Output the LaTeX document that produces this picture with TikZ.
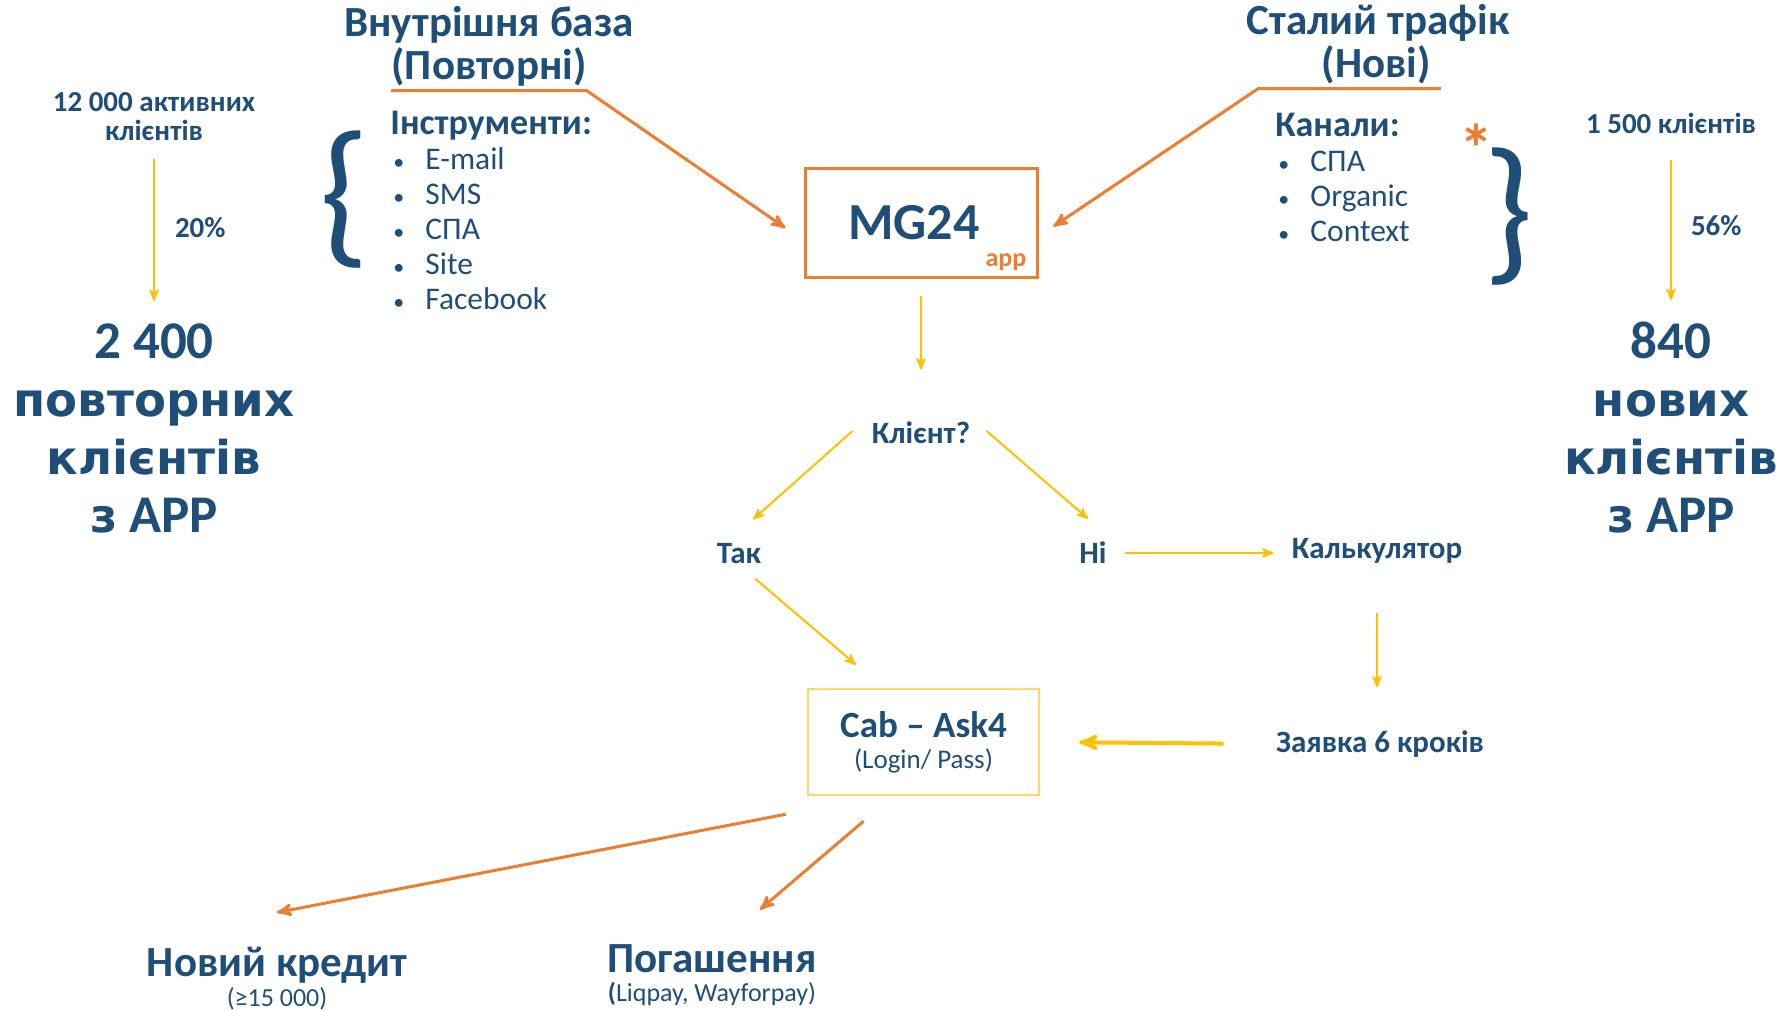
\documentclass[tikz,border=0pt]{standalone}
\usepackage{fontspec}
\setmainfont{Carlito}
\newfontfamily\widefont{DejaVu Sans}
\usepackage{xcolor}
\usetikzlibrary{arrows, positioning}

\definecolor{navy}{RGB}{31,78,121}
\definecolor{orng}{RGB}{237,125,49}
\definecolor{gold}{RGB}{255,192,0}
\definecolor{paleg}{RGB}{255,217,102}

\newcommand{\fs}[2]{\fontsize{#1}{#2}\selectfont}
\newcommand{\bul}[1]{\makebox[17.5pt][l]{\hspace{1.5pt}{\fs{11}{11}\textbullet}}#1}
\newcommand{\cyr}[1]{{\widefont\fs{23.3}{29}#1}}

\begin{document}
\begin{tikzpicture}[x=0.5pt, y=-0.5pt,
			->,
			>=stealth',
			txt/.style={text=navy, inner sep=0pt},
			bigtxt/.style={txt, align=center, font=\bfseries\fs{26.5}{29}},
			headtxt/.style={txt, font=\bfseries\fs{21.5}{22}},
			flowtxt/.style={txt, font=\bfseries\fs{15.5}{17}},
			notetxt/.style={txt, align=center, font=\bfseries\fs{14.5}{14.5}},
			subtxt/.style={txt, font=\fs{13}{13}},
			listtxt/.style={txt, align=left, anchor=north west, font=\fs{15.75}{17.5}},
			bracetxt/.style={txt, font=\fs{80}{80}},
			yarr/.style={draw=gold, line width=1pt},
			oarr/.style={draw=orng, line width=1.5pt}]

			\useasboundingbox (0,0) rectangle (1783,1011);

			% left: repeat clients
			\node[notetxt] (active) at (154,117) {12 000 активних\\клієнтів};
			\node[bigtxt] (repeat) at (154,428) {2 400\\\cyr{повторних}\\\cyr{клієнтів}\\\cyr{з} APP};
			\draw[yarr, shorten <=8.5pt, shorten >=11pt] (active) -- node[notetxt, midway, right=10pt, yshift=2.5pt] (pct20) {20\%} (repeat);

			% inner base
			\node[headtxt] (basetitle) at (489,25) {Внутрішня база};
			\node[headtxt] (basesub) at (489,67) {(Повторні)};
			\node[bracetxt] (lbrace) at (345,200) {\{};
			\node[listtxt] (tools) at (390,111) {{\fs{18}{17.5}\bfseries Інструменти:}\\
				\bul{E-mail}\\ \bul{SMS}\\ \bul{СПА}\\ \bul{Site}\\ \bul{Facebook}};

			% steady traffic
			\node[headtxt] (traftitle) at (1378,23) {Сталий трафік};
			\node[headtxt] (trafsub) at (1376,65) {(Нові)};
			\node[listtxt] (chan) at (1275,113) {{\fs{18}{17.5}\bfseries Канали:}\\
				\bul{СПА}\\ \bul{Organic}\\ \bul{Context}};
			\node[txt, text=orng, font=\bfseries\fs{34}{34}] (star) at (1476,148) {*};
			\node[bracetxt] (rbrace) at (1509,217) {\}};

			% right: new clients
			\node[notetxt] (newact) at (1671,123) {1 500 клієнтів};
			\node[bigtxt] (newcl) at (1671,428) {840\\\cyr{нових}\\\cyr{клієнтів}\\\cyr{з} APP};
			\draw[yarr, shorten <=13pt, shorten >=11pt] (newact) -- node[notetxt, midway, right=9.5pt, yshift=1pt] (pct56) {56\%} (newcl);

			% app
			\node[draw=orng, line width=1.5pt, minimum width=116pt, minimum height=54.5pt, txt,
				font=\bfseries\fs{26}{26}] (mg) at (921,222.5) {\raisebox{-1.5pt}{MG24}\hspace*{7pt}};
			\node[txt, text=orng, font=\bfseries\fs{13}{13}] (appsub) at (1006,262) {app};
			\draw[oarr, shorten >=11pt] ([yshift=-2pt]basesub.south west) -- ([yshift=-2pt]basesub.south east) -- ([yshift=-9pt]mg.west);
			\draw[oarr, shorten >=9pt] ([xshift=5pt, yshift=-2pt]trafsub.south east) -- ([xshift=6pt, yshift=-2pt]trafsub.south -| traftitle.west) -- ([yshift=-7pt]mg.east);

			% flow
			\node[flowtxt] (client) at (921,433) {Клієнт?};
			\node[flowtxt] (yes) at (739,554) {Так};
			\node[flowtxt] (no) at (1093,553) {Ні};
			\node[flowtxt] (calc) at (1377,551) {Калькулятор};
			\node[flowtxt] (apply) at (1380,744) {Заявка 6 кроків};
			\node[draw=paleg, line width=1.25pt, minimum width=115.5pt, minimum height=53pt, txt,
				align=center] (cab) at (923.5,742)
				{{\fs{18.5}{17}\bfseries Cab – Ask4}\\[3.5pt]{\fs{13.5}{17}(Login/ Pass)}};

			\draw[yarr, shorten <=8.5pt, shorten >=26pt] (mg) -- (client);
			\draw[yarr] ([xshift=-9.5pt, yshift=1pt]client.west) -- ([xshift=7pt, yshift=12pt]yes.north);
			\draw[yarr] ([xshift=8pt, yshift=1pt]client.east) -- ([xshift=-2.5pt, yshift=11.5pt]no.north);
			\draw[yarr, shorten <=9pt, shorten >=9pt] (no.east) -- (no.east -| calc.west);
			\draw[yarr, shorten <=24.5pt, shorten >=21.5pt] (calc.south) -- (calc.south |- apply.north);
			\draw[yarr, line width=2pt, shorten <=26pt, shorten >=19.5pt] (apply.west) -- (cab.east);
			\draw[yarr] ([xshift=8pt, yshift=-7pt]yes.south) -- ([xshift=-33.75pt, yshift=11.5pt]cab.north);

			% outcomes
			\node[headtxt] (credit) at (277,965) {Новий кредит};
			\node[subtxt] (creditsub) at (277,999) {(≥15 000)};
			\node[headtxt] (repay) at (712,959) {Погашення};
			\node[subtxt] (repaysub) at (712,994) {\textbf{(}Liqpay, Wayforpay)};
			\draw[oarr] ([xshift=-10.5pt, yshift=-9pt]cab.south west) -- ([yshift=17pt]credit.north);
			\draw[oarr] ([xshift=-30pt, yshift=-12.5pt]cab.south) -- ([xshift=24pt, yshift=17.5pt]repay.north);
		\end{tikzpicture}
\end{document}
